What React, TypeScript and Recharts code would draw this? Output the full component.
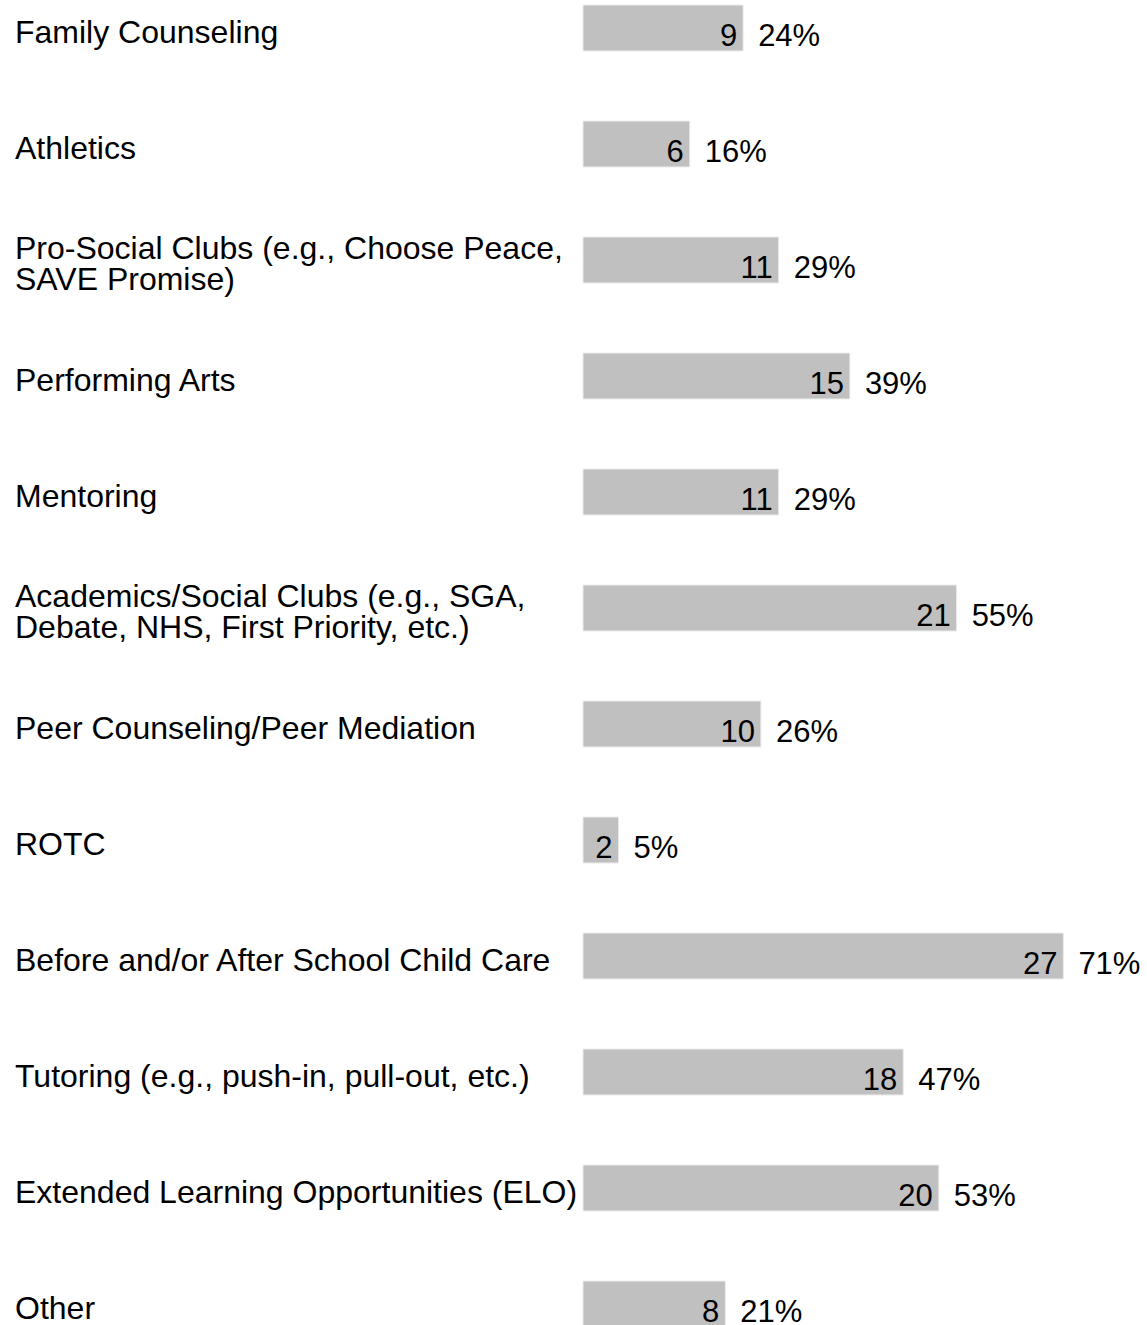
import React from 'react';
import { BarChart, Bar, XAxis, YAxis, LabelList } from 'recharts';

const categories: string[] = [
  'Family Counseling',
  'Athletics',
  'Pro-Social Clubs (e.g., Choose Peace,\nSAVE Promise)',
  'Performing Arts',
  'Mentoring',
  'Academics/Social Clubs (e.g., SGA,\nDebate, NHS, First Priority, etc.)',
  'Peer Counseling/Peer Mediation',
  'ROTC',
  'Before and/or After School Child Care',
  'Tutoring (e.g., push-in, pull-out, etc.)',
  'Extended Learning Opportunities (ELO)',
  'Other',
];
const counts: number[] = [9, 6, 11, 15, 11, 21, 10, 2, 27, 18, 20, 8];
const percents: number[] = [24, 16, 29, 39, 29, 55, 26, 5, 71, 47, 53, 21];

const data = categories.map((name, i) => ({ name, count: counts[i], pct: percents[i] }));

const FONT = '"Liberation Sans", Arial, sans-serif';
const X_MAX = 31.7;

const CategoryTick = (props: any) => {
  const { y, payload } = props;
  const lines: string[] = String(payload.value).split('\n');
  const lineH = 31;
  const startY = y + 14.5 - ((lines.length - 1) * lineH) / 2;
  return (
    <text x={15} y={startY} fontSize={32} fontFamily={FONT} fill="#000" textAnchor="start">
      {lines.map((l, i) => (
        <tspan key={i} x={15} y={startY + i * lineH}>
          {l}
        </tspan>
      ))}
    </text>
  );
};

const CountLabel = (props: any) => {
  const { x, y, width, value } = props;
  return (
    <text x={x + width - 6} y={y + 41} fontSize={31} fontFamily={FONT} fill="#000" textAnchor="end">
      {value}
    </text>
  );
};

const PctLabel = (props: any) => {
  const { x, y, width, value } = props;
  return (
    <text x={x + width + 15} y={y + 41} fontSize={31} fontFamily={FONT} fill="#000" textAnchor="start">
      {value}%
    </text>
  );
};

export default function App() {
  return (
    <div style={{ position: 'absolute', left: 0, top: 0, width: 1147, height: 1325, overflow: 'hidden', background: '#fff' }}>
      <div style={{ marginTop: -30 }}>
        <BarChart
          width={1147}
          height={1392}
          data={data}
          layout="vertical"
          margin={{ top: 0, right: 0, bottom: 0, left: 0 }}
          barSize={46}
        >
          <XAxis type="number" domain={[0, X_MAX]} hide />
          <YAxis
            type="category"
            dataKey="name"
            width={583}
            axisLine={false}
            tickLine={false}
            interval={0}
            tick={<CategoryTick />}
          />
          <Bar dataKey="count" fill="#c0c0c0" stroke="#ececec" strokeWidth={1} isAnimationActive={false}>
            <LabelList dataKey="count" content={<CountLabel />} />
            <LabelList dataKey="pct" content={<PctLabel />} />
          </Bar>
        </BarChart>
      </div>
    </div>
  );
}
